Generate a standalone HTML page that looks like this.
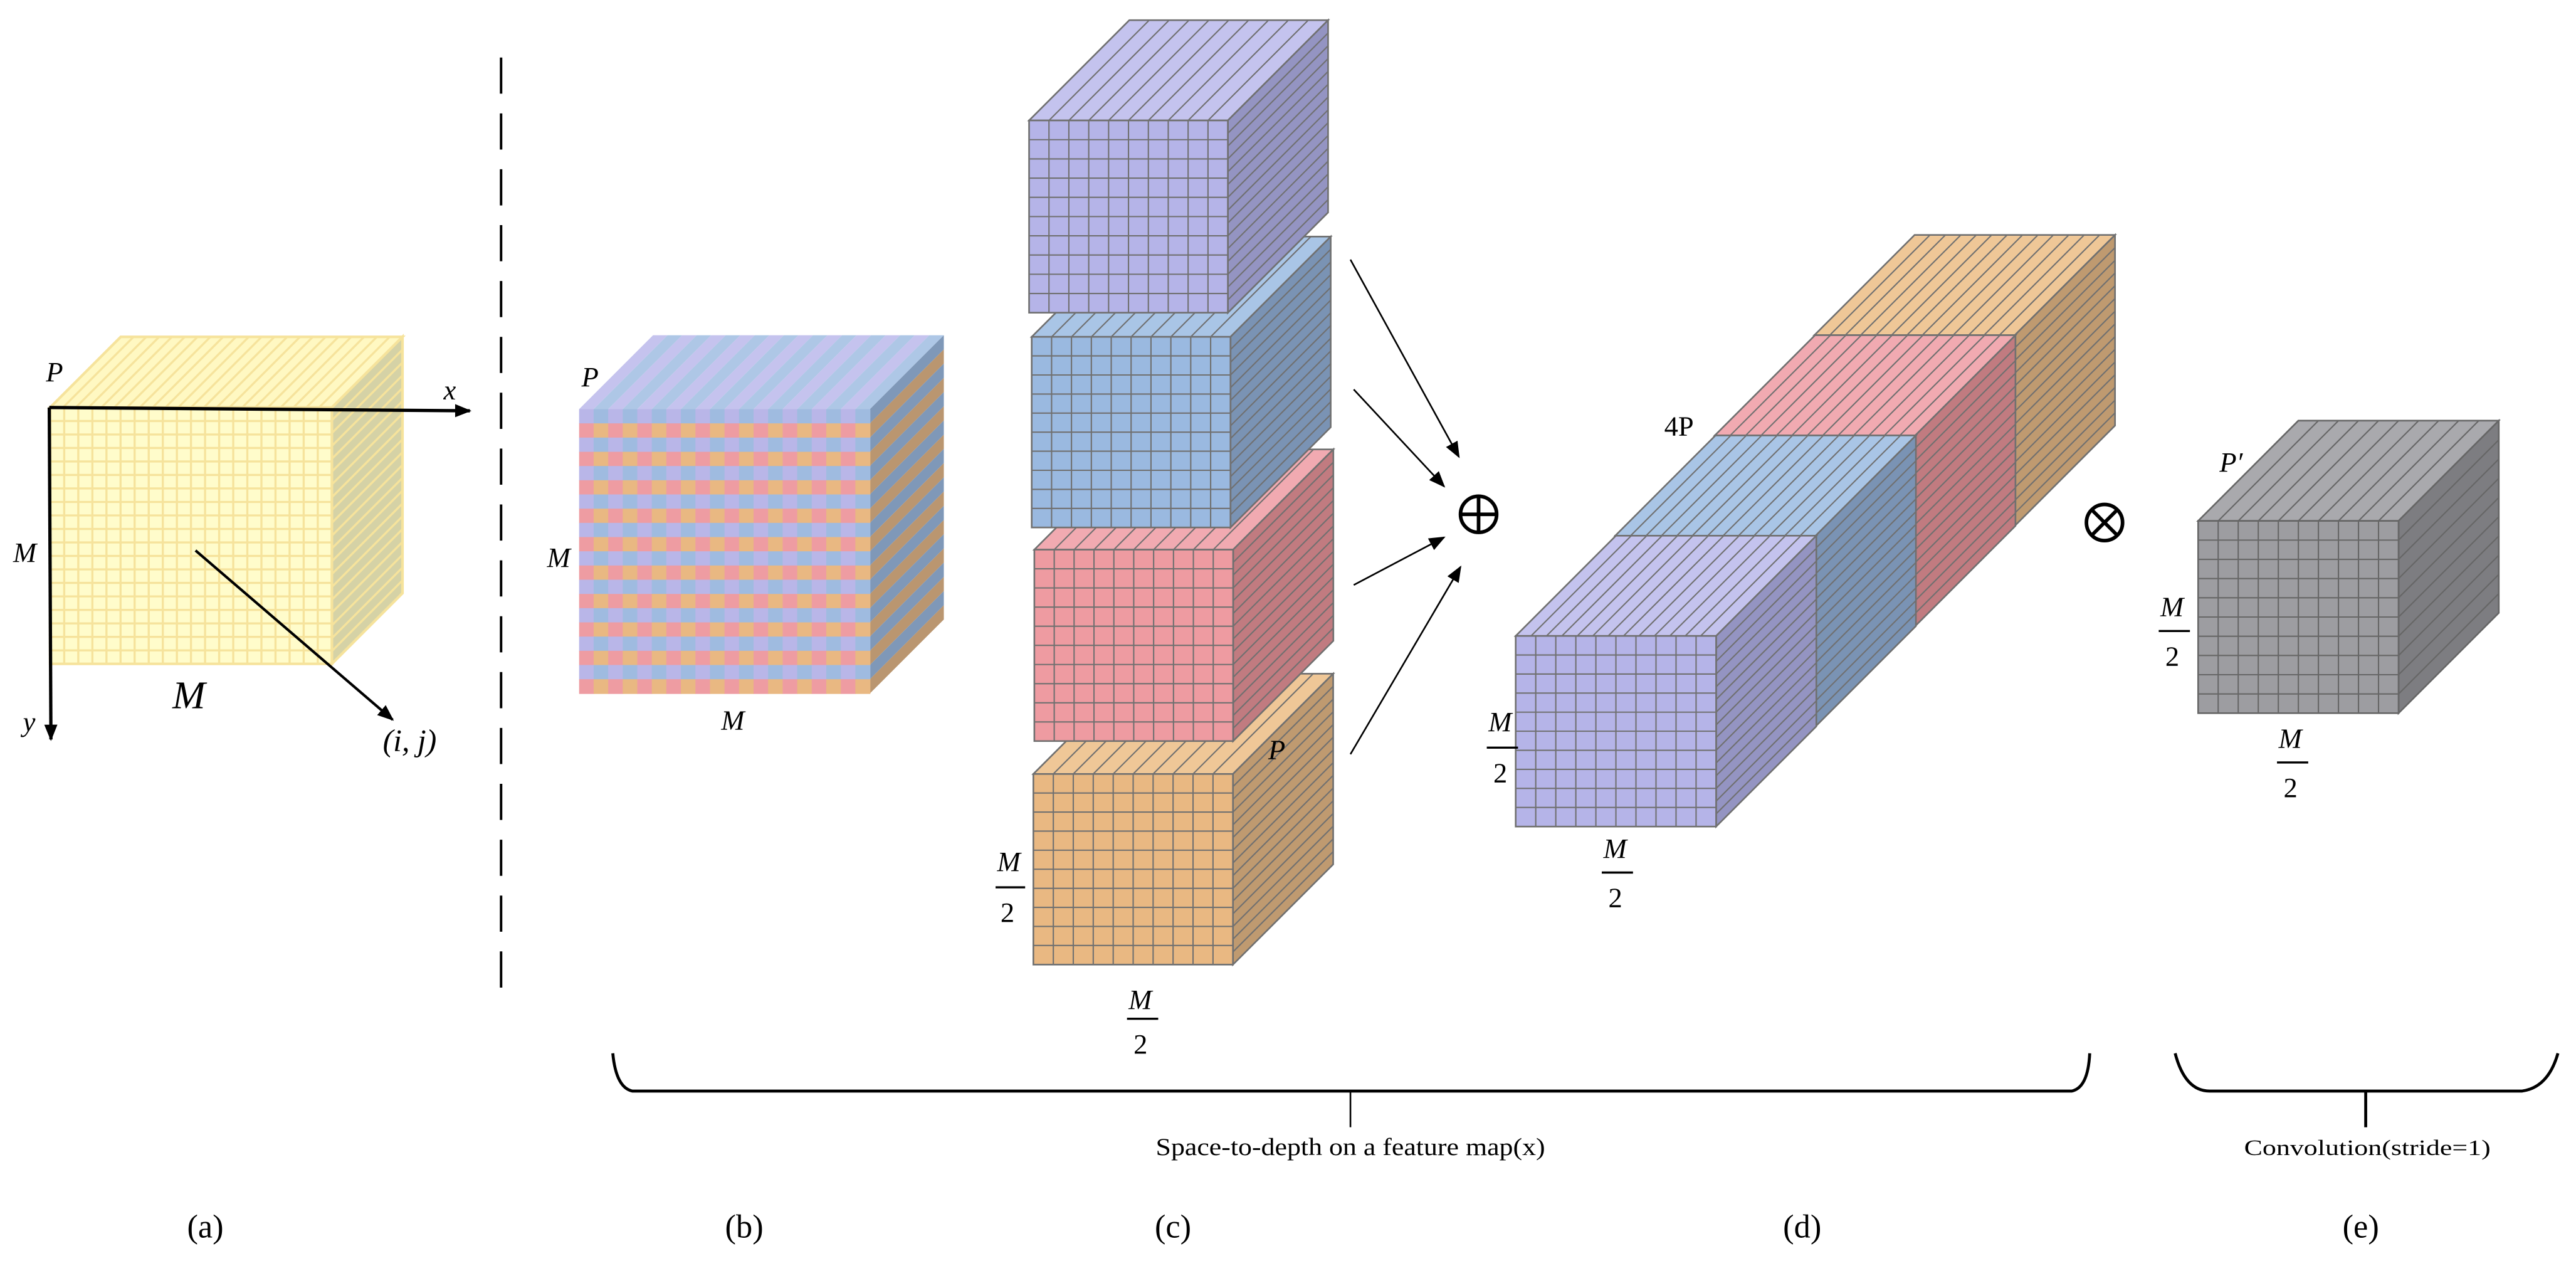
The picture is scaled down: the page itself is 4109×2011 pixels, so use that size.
<!DOCTYPE html>
<html><head><meta charset="utf-8">
<style>
html,body{margin:0;padding:0;background:#fff;}
svg{display:block;}
.m{font-family:"Liberation Serif",serif;font-style:italic;fill:#000;}
.r{font-family:"Liberation Serif",serif;fill:#000;}
</style></head>
<body>
<svg id="s" xmlns="http://www.w3.org/2000/svg" width="4109" height="2011" viewBox="0 0 1568 767.4" preserveAspectRatio="none">
<defs>
<marker id="ah" markerWidth="10" markerHeight="8" refX="9" refY="4" orient="auto" markerUnits="userSpaceOnUse">
<path d="M0,0 L10,4 L0,8 Z" fill="#000"/></marker>
</defs>
<g id="shapes"></g>
<line x1="305" y1="35" x2="305" y2="605" stroke="#000" stroke-width="1.5" stroke-dasharray="22,12"/>
<line x1="30" y1="248" x2="286" y2="250" stroke="#000" stroke-width="2" marker-end="url(#ah)"/>
<line x1="30" y1="248" x2="31" y2="450" stroke="#000" stroke-width="2" marker-end="url(#ah)"/>
<line x1="119" y1="335" x2="239" y2="438" stroke="#000" stroke-width="1.6" marker-end="url(#ah)"/>
<text class="m" x="28" y="232" font-size="17">P</text>
<text class="m" x="270" y="243" font-size="17">x</text>
<text class="m" x="8" y="342" font-size="17">M</text>
<text class="m" x="14" y="445" font-size="17">y</text>
<text class="m" x="105" y="431" font-size="24">M</text>
<text class="m" x="233" y="457" font-size="19">(i, j)</text>
<text class="m" x="354" y="235" font-size="17">P</text>
<text class="m" x="333" y="345" font-size="17">M</text>
<text class="m" x="439" y="444" font-size="17">M</text>
<text class="m" x="772" y="462" font-size="17">P</text>
<text class="m" x="607" y="530" font-size="17">M</text>
<line x1="606" y1="540" x2="624" y2="540" stroke="#000" stroke-width="1.3"/>
<text class="r" x="609" y="561" font-size="17">2</text>
<text class="m" x="687" y="614" font-size="17">M</text>
<line x1="686" y1="620" x2="705" y2="620" stroke="#000" stroke-width="1.3"/>
<text class="r" x="690" y="641" font-size="17">2</text>
<line x1="822" y1="158" x2="888" y2="278" stroke="#000" stroke-width="1" marker-end="url(#ah)"/>
<line x1="824" y1="237" x2="879" y2="296" stroke="#000" stroke-width="1" marker-end="url(#ah)"/>
<line x1="824" y1="356" x2="879" y2="327" stroke="#000" stroke-width="1" marker-end="url(#ah)"/>
<line x1="822" y1="459" x2="889" y2="345" stroke="#000" stroke-width="1" marker-end="url(#ah)"/>
<g stroke="#000" stroke-width="2.2" fill="none">
<circle cx="900" cy="313" r="11"/><line x1="889" y1="313" x2="911" y2="313"/><line x1="900" y1="302" x2="900" y2="324"/>
<circle cx="1281" cy="318" r="11"/><line x1="1273.2" y1="310.2" x2="1288.8" y2="325.8"/><line x1="1288.8" y1="310.2" x2="1273.2" y2="325.8"/>
</g>
<text class="r" x="1013" y="265" font-size="17">4P</text>
<text class="m" x="906" y="445" font-size="17">M</text>
<line x1="905" y1="455" x2="924" y2="455" stroke="#000" stroke-width="1.3"/>
<text class="r" x="909" y="476" font-size="17">2</text>
<text class="m" x="976" y="522" font-size="17">M</text>
<line x1="975" y1="531" x2="994" y2="531" stroke="#000" stroke-width="1.3"/>
<text class="r" x="979" y="552" font-size="17">2</text>
<text class="m" x="1351" y="287" font-size="17">P′</text>
<text class="m" x="1315" y="375" font-size="17">M</text>
<line x1="1314" y1="384" x2="1333" y2="384" stroke="#000" stroke-width="1.3"/>
<text class="r" x="1318" y="405" font-size="17">2</text>
<text class="m" x="1387" y="455" font-size="17">M</text>
<line x1="1386" y1="464" x2="1405" y2="464" stroke="#000" stroke-width="1.3"/>
<text class="r" x="1390" y="485" font-size="17">2</text>
<path d="M373,641 Q375,662 385,664 L1261,664 Q1271,662 1272,641" fill="none" stroke="#000" stroke-width="1.8"/>
<line x1="822" y1="664" x2="822" y2="686" stroke="#000" stroke-width="1"/>
<text class="r" x="822" y="703" font-size="15" text-anchor="middle" textLength="237" lengthAdjust="spacingAndGlyphs">Space-to-depth on a feature map(x)</text>
<path d="M1324,641 Q1330,664 1345,664 L1535,664 Q1551,662 1557,641" fill="none" stroke="#000" stroke-width="1.8"/>
<line x1="1440" y1="664" x2="1440" y2="686" stroke="#000" stroke-width="1.8"/>
<text class="r" x="1441" y="703" font-size="13.5" text-anchor="middle" textLength="150" lengthAdjust="spacingAndGlyphs">Convolution(stride=1)</text>
<text class="r" x="125" y="753" font-size="20" text-anchor="middle">(a)</text>
<text class="r" x="453" y="753" font-size="20" text-anchor="middle">(b)</text>
<text class="r" x="714" y="753" font-size="20" text-anchor="middle">(c)</text>
<text class="r" x="1097" y="753" font-size="20" text-anchor="middle">(d)</text>
<text class="r" x="1437" y="753" font-size="20" text-anchor="middle">(e)</text>
</svg>
<script>
(function(){
var g=document.getElementById('shapes'),out='';
function poly(p,f,s,w){out+='<polygon points="'+p.map(function(a){return a[0].toFixed(2)+','+a[1].toFixed(2)}).join(' ')+'" fill="'+f+'" stroke="'+(s||'none')+'" stroke-width="'+(w||0)+'"/>';}
function ln(a,b,c,d,s,w){out+='<line x1="'+a.toFixed(2)+'" y1="'+b.toFixed(2)+'" x2="'+c.toFixed(2)+'" y2="'+d.toFixed(2)+'" stroke="'+s+'" stroke-width="'+w+'"/>';}
function cube(x,y,w,h,d,cols,rows,nt,nr,cf,ct,cr,st,sw){
 poly([[x,y],[x+w,y],[x+w+d,y-d],[x+d,y-d]],ct,st,sw);
 for(var i=1;i<nt;i++){var xx=x+i*w/nt;ln(xx,y,xx+d,y-d,st,sw*0.8);}
 poly([[x+w,y],[x+w+d,y-d],[x+w+d,y+h-d],[x+w,y+h]],cr,st,sw);
 for(var j=1;j<nr;j++){var yy=y+j*h/nr;ln(x+w,yy,x+w+d,yy-d,st,sw*0.8);}
 poly([[x,y],[x+w,y],[x+w,y+h],[x,y+h]],cf,st,sw);
 for(var i=1;i<cols;i++){var xx=x+i*w/cols;ln(xx,y,xx,y+h,st,sw*0.8);}
 for(var j=1;j<rows;j++){var yy=y+j*h/rows;ln(x,yy,x+w,yy,st,sw*0.8);}
}
cube(30.5,248,171.5,156,43,20,19,22,20,'#fffccb','#fff8c2','#d5d2a6','#f6e39c',1.6);
(function(){
 var x=352.5,y=249,w=177,h=173,d=45,n=20;
 var tc=['#c5c3ee','#aec7e6'];
 for(var i=0;i<n;i++){var a=x+i*w/n,b=x+(i+1)*w/n;poly([[a,y],[b,y],[b+d,y-d],[a+d,y-d]],tc[i%2]);}
 var rc=['#7f98b8','#ba9670'];
 for(var j=0;j<n;j++){var a=y+j*h/n,b=y+(j+1)*h/n;poly([[x+w,a],[x+w+d,a-d],[x+w+d,b-d],[x+w,b]],rc[j%2]);}
 var c0=['#b9b6e8','#9fbbe0'],c1=['#ee9ca2','#e9b882'];
 for(var j=0;j<n;j++)for(var i=0;i<n;i++){var cc=(j%2?c1:c0)[i%2];
  out+='<rect x="'+(x+i*w/n).toFixed(2)+'" y="'+(y+j*h/n).toFixed(2)+'" width="'+(w/n+0.3).toFixed(2)+'" height="'+(h/n+0.3).toFixed(2)+'" fill="'+cc+'"/>';}
})();
var S='#707070';
var P=['#b5b4e8','#c4c3ee','#9494c2'],B=['#9ab9e0','#a9c5e6','#7a93b4'],R=['#ee9ba1','#f1aab1','#c17b80'],O=['#e9b882','#efc797','#bf9a70'];
cube(629,471,121.5,116,61,10,10,10,15,O[0],O[1],O[2],S,1);
cube(629.6,334.5,121,116.5,61,10,10,10,15,R[0],R[1],R[2],S,1);
cube(628,205,121,116,61,10,10,10,15,B[0],B[1],B[2],S,1);
cube(626.4,73.3,121,117,61,10,10,10,15,P[0],P[1],P[2],S,1);
cube(1104.4,204,122,116,61,10,10,13,15,O[0],O[1],O[2],S,1);
cube(1043.8,265,122,116,61,10,10,13,15,R[0],R[1],R[2],S,1);
cube(983.2,326,122,116,61,10,10,13,15,B[0],B[1],B[2],S,1);
cube(922.6,387,122,116,61,10,10,13,15,P[0],P[1],P[2],S,1);
cube(1338,317,122,117,61,10,10,10,10,'#9d9da1','#a9a9ad','#7d7d81','#666',1);
g.innerHTML=out;
})();
</script>
</body></html>
